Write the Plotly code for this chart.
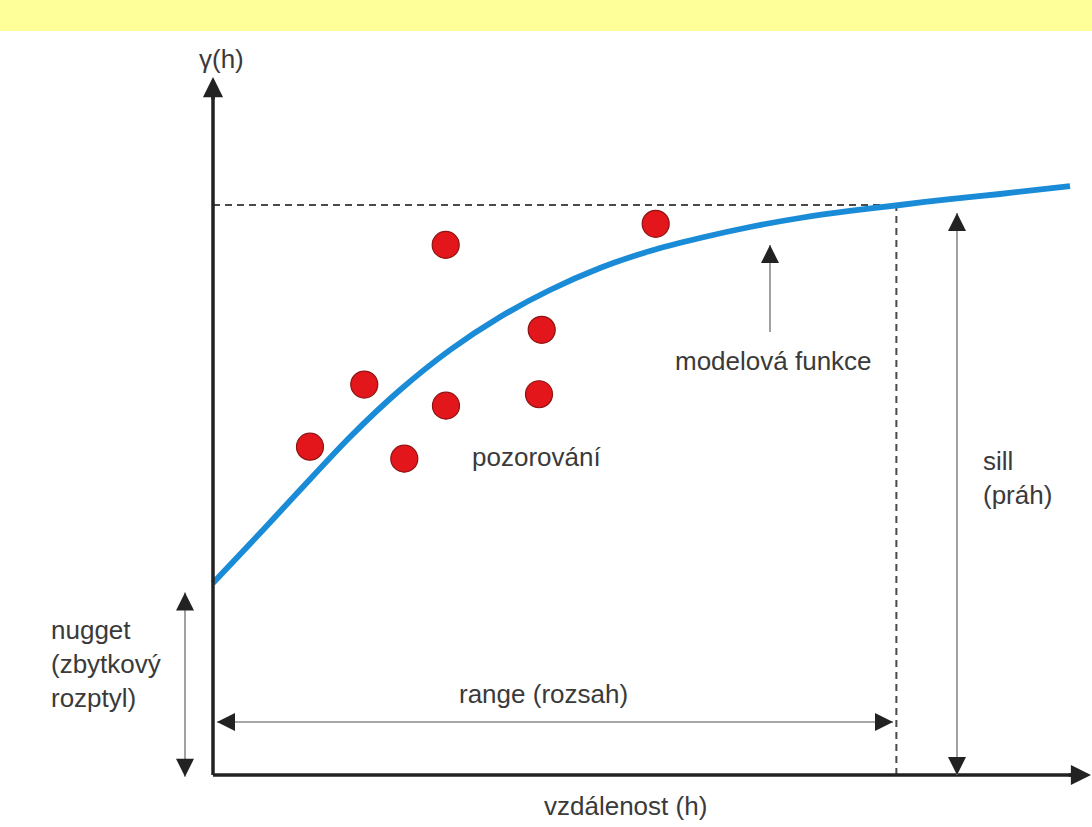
import plotly.graph_objects as go

# ---- data (h = distance, gamma = semivariance) ----
model_h = [0.0, 0.733, 1.276, 2.009, 2.742, 3.475, 4.208, 4.941, 5.674, 6.408,
           7.141, 7.874, 8.607, 9.340, 10.073, 10.806, 11.540, 12.566]
model_gamma = [3.368, 4.298, 5.000, 5.930, 6.754, 7.456, 8.035, 8.509, 8.895, 9.193,
               9.421, 9.614, 9.772, 9.895, 10.000, 10.105, 10.193, 10.333]

obs_h = [3.412, 6.491, 4.820, 2.218, 3.416, 4.780, 1.422, 2.805]
obs_gamma = [9.30, 9.67, 7.81, 6.85, 6.48, 6.68, 5.76, 5.55]

nugget = 3.2
sill = 10.0
range_h = 10.02

# ---- layout helpers ----
W, H = 1092, 827
X0_PX, Y0_PX = 213, 775
SX, SY = 68.2, 57.0
x_range = [-X0_PX / SX, (W - X0_PX) / SX]
y_range = [(Y0_PX - H) / SY, Y0_PX / SY]

def dx(px):
    return (px - X0_PX) / SX

def dy(py):
    return (Y0_PX - py) / SY

FONT = dict(family="Liberation Sans, Arial, sans-serif", size=26, color="#3a3a3a")
AXIS_C = "#222222"
THIN_C = "#8a8a8a"
HEAD_C = "#222222"

fig = go.Figure()

# model curve
fig.add_trace(go.Scatter(
    x=model_h, y=model_gamma, mode="lines",
    line=dict(color="#1a8bd6", width=5.8, shape="spline", smoothing=0.8),
    hoverinfo="skip", showlegend=False,
))

# observations
fig.add_trace(go.Scatter(
    x=obs_h, y=obs_gamma, mode="markers",
    marker=dict(size=27, color="#e2161b", line=dict(color="#8e1414", width=1.2)),
    hoverinfo="skip", showlegend=False,
))

shapes = []
# yellow band at top
shapes.append(dict(type="rect", xref="paper", yref="paper", x0=0, x1=1,
                   y0=1 - 31 / H, y1=1, fillcolor="#ffff99", line=dict(width=0),
                   layer="below"))
# axes
y_top = dy(95)
x_right = dx(1075)
shapes.append(dict(type="line", x0=0, x1=0, y0=0, y1=y_top,
                   line=dict(color=AXIS_C, width=3.5)))
shapes.append(dict(type="line", x0=0, x1=x_right, y0=0, y1=0,
                   line=dict(color=AXIS_C, width=3.5)))
# dashed sill / range lines
shapes.append(dict(type="line", x0=0, x1=range_h, y0=sill, y1=sill,
                   line=dict(color="#4a4a4a", width=2, dash="7px,5px"), layer="below"))
shapes.append(dict(type="line", x0=range_h, x1=range_h, y0=0, y1=sill,
                   line=dict(color="#4a4a4a", width=2, dash="7px,5px"), layer="below"))

# thin gray arrow shafts
nug_x = dx(185)
sill_x = dx(957)
range_y = dy(722)
mod_x = dx(770)
mod_y0, mod_y1 = dy(332), dy(245)
sill_top = dy(213)
range_x0, range_x1 = dx(217), dx(893)
shapes.append(dict(type="line", x0=nug_x, x1=nug_x, y0=-0.03, y1=nugget,
                   line=dict(color=THIN_C, width=1.6)))
shapes.append(dict(type="line", x0=sill_x, x1=sill_x, y0=0, y1=sill_top,
                   line=dict(color=THIN_C, width=1.6)))
shapes.append(dict(type="line", x0=range_x0, x1=range_x1, y0=range_y, y1=range_y,
                   line=dict(color=THIN_C, width=1.6)))
shapes.append(dict(type="line", x0=mod_x, x1=mod_x, y0=mod_y0, y1=mod_y1,
                   line=dict(color=THIN_C, width=1.6)))

annotations = []

def head(x, y, ax, ay, width=1.5, size=2.4):
    annotations.append(dict(x=x, y=y, xref="x", yref="y", ax=ax, ay=ay,
                            axref="pixel", ayref="pixel", showarrow=True,
                            arrowhead=2, arrowsize=size, arrowwidth=width,
                            arrowcolor=HEAD_C, text="", standoff=0))

# axis arrow heads
head(0, dy(77), 0, 24, width=3.5, size=1.15)
head(dx(1091), 0, -24, 0, width=3.5, size=1.15)
# nugget arrow heads
head(nug_x, nugget, 0, 12)
head(nug_x, -0.03, 0, -12)
# sill arrow heads
head(sill_x, sill_top, 0, 12)
head(sill_x, 0, 0, -12)
# range arrow heads
head(range_x0, range_y, 12, 0)
head(range_x1, range_y, -12, 0)
# model function arrow head
head(mod_x, mod_y1, 0, 12)

def label(text, x, y, xanchor="center"):
    annotations.append(dict(x=x, y=y, xref="x", yref="y", text=text,
                            showarrow=False, font=FONT, xanchor=xanchor,
                            yanchor="middle", align="left"))

label("γ(h)", dx(221), dy(59))
label("modelová funkce", dx(773), dy(361))
label("pozorování", dx(536), dy(457))
label("sill<br>(práh)", dx(981), dy(478), xanchor="left")
label("nugget<br>(zbytkový<br>rozptyl)", dx(163), dy(664), xanchor="right")
label("range (rozsah)", dx(543), dy(694))
label("vzdálenost (h)", dx(625), dy(806))

fig.update_layout(
    width=W, height=H,
    margin=dict(l=0, r=0, t=0, b=0),
    paper_bgcolor="white", plot_bgcolor="white",
    xaxis=dict(range=x_range, visible=False, fixedrange=True),
    yaxis=dict(range=y_range, visible=False, fixedrange=True),
    shapes=shapes, annotations=annotations,
    showlegend=False,
)

fig.write_html(
    "out.html",
    config={"displayModeBar": False},
    post_script="document.body.style.margin='0px';document.body.style.overflow='hidden';",
)
